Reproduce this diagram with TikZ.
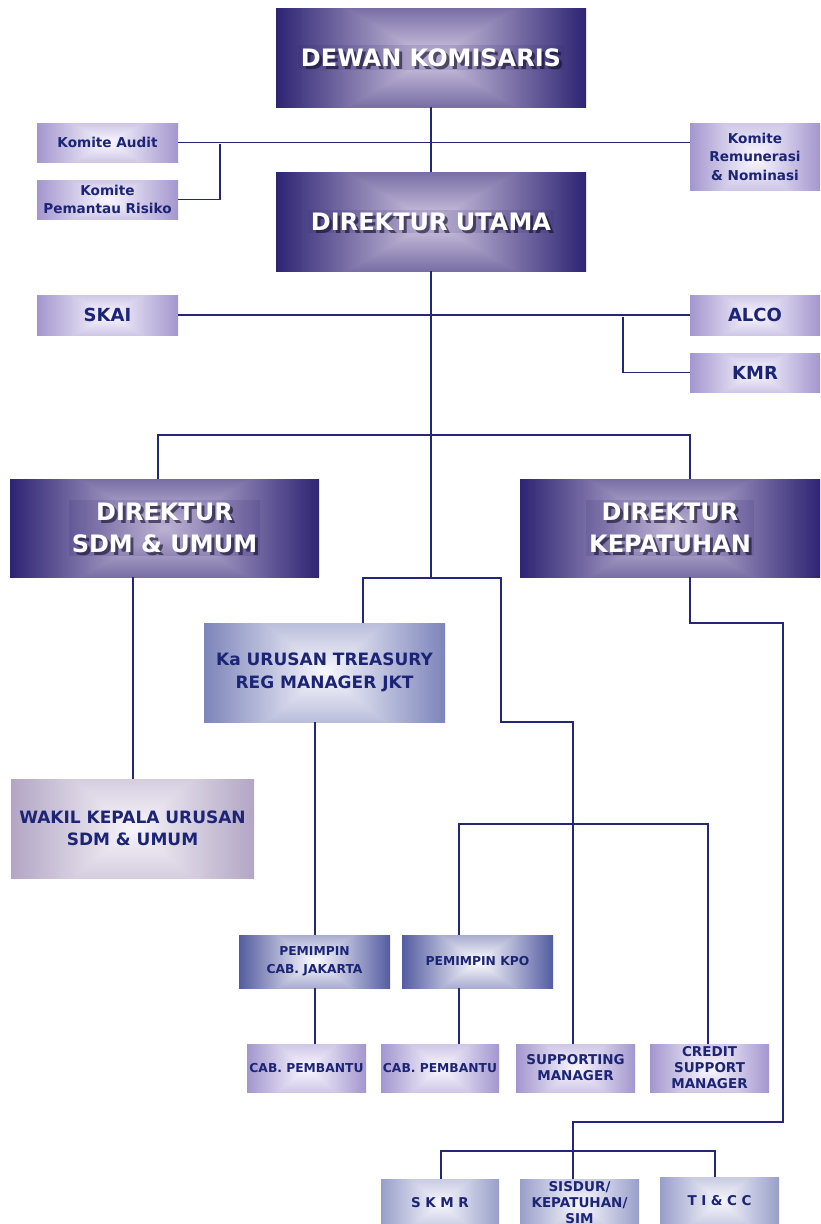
\documentclass[tikz,border=0pt]{standalone}
\usepackage{fontspec}
\setmainfont{DejaVu Sans}
\definecolor{navy}{RGB}{28,36,118}
\definecolor{lnc}{RGB}{36,40,116}
\definecolor{dedge}{RGB}{46,36,114}
% functional rectangular "from centre" shading
\newcommand\mkshade[8]{%
 \pgfdeclarefunctionalshading{#1}{\pgfpoint{0bp}{0bp}}{\pgfpoint{100bp}{100bp}}{}{%
  50 sub abs 25 div #8 mul exch 50 sub abs 25 div
  2 copy lt {exch} if pop
  dup 1 gt {pop 1} if
  dup #5 #2 sub mul #2 add
  exch dup #6 #3 sub mul #3 add
  exch #7 #4 sub mul #4 add
 }}
\mkshade{darksh}{0.83}{0.79}{0.89}{0.18}{0.14}{0.45}{0.55}
\mkshade{lightsh}{0.98}{0.97}{1.0}{0.64}{0.59}{0.81}{0.5}
\mkshade{bluesh}{0.97}{0.97}{0.99}{0.49}{0.52}{0.73}{0.5}
\mkshade{bluelsh}{0.97}{0.97}{0.99}{0.60}{0.62}{0.79}{0.5}
\mkshade{pinksh}{0.97}{0.96}{0.98}{0.70}{0.65}{0.77}{0.5}
\mkshade{medsh}{0.99}{0.99}{1.0}{0.33}{0.36}{0.63}{0.5}
\tikzset{
  box/.style={inner sep=0pt, align=center, text=navy, font=\bfseries},
  dbox/.style={box, shading=darksh},
  lbox/.style={box, shading=lightsh},
  bbox/.style={box, shading=bluesh},
  blbox/.style={box, shading=bluelsh},
  pbox/.style={box, shading=pinksh},
  mbox/.style={box, shading=medsh},
  conn/.style={draw=lnc, line width=1.6pt},
  dtxt/.style={align=center, text=white, font=\fontsize{24}{32}\selectfont\bfseries,
     fill=dedge, fill opacity=0.14, text opacity=1, inner sep=3pt},
  stxt/.style={align=center, text=black!75!dedge, text opacity=0.6, font=\fontsize{24}{32}\selectfont\bfseries, inner sep=3pt},
  fa/.style={font=\fontsize{13.6}{18.5}\selectfont\bfseries},
  fb/.style={font=\fontsize{18}{21}\selectfont\bfseries},
  fc/.style={font=\fontsize{17}{22.5}\selectfont\bfseries},
  fd/.style={font=\fontsize{12.3}{18}\selectfont\bfseries},
  fe/.style={font=\fontsize{13.5}{16}\selectfont\bfseries},
}
\begin{document}
\begin{tikzpicture}[x=1pt,y=-1pt]
\path[use as bounding box, clip] (0,0) rectangle (820,1224);
\fill[white] (0,0) rectangle (820,1224);

% ---------- boxes ----------
\node[dbox, minimum width=310, minimum height=99] (dk) at (431,57.5) {};
\node[dbox, minimum width=310, minimum height=99] (du) at (431,221.5) {};
\node[dbox, minimum width=309, minimum height=98] (dsdm) at (164.5,528) {};
\node[dbox, minimum width=300, minimum height=98] (dkep) at (670,528) {};

\node[stxt] (dks) at ([shift={(3,3)}]dk.center) {DEWAN KOMISARIS};
\node[dtxt] (dkt) at (dk.center) {DEWAN KOMISARIS};
\node[stxt] (dus) at ([shift={(3,3)}]du.center) {DIREKTUR UTAMA};
\node[dtxt] (dut) at (du.center) {DIREKTUR UTAMA};
\node[stxt] (dsdms) at ([shift={(3,3)}]dsdm.center) {DIREKTUR\\SDM \& UMUM};
\node[dtxt] (dsdmt) at (dsdm.center) {DIREKTUR\\SDM \& UMUM};
\node[stxt] (dkeps) at ([shift={(3,3)}]dkep.center) {DIREKTUR\\KEPATUHAN};
\node[dtxt] (dkept) at (dkep.center) {DIREKTUR\\KEPATUHAN};

\node[lbox, fa, minimum width=141, minimum height=39] (ka) at (107.5,142.5) {Komite Audit};
\node[lbox, fa, minimum width=141, minimum height=39] (kp) at (107.5,199.5) {Komite\\Pemantau Risiko};
\node[lbox, fa, minimum width=130, minimum height=67] (rem) at (755,156.5) {Komite\\Remunerasi\\\& Nominasi};
\node[lbox, fb, minimum width=141, minimum height=40] (skai) at (107.5,315) {SKAI};
\node[lbox, fb, minimum width=130, minimum height=40] (alco) at (755,315) {ALCO};
\node[lbox, fb, minimum width=130, minimum height=39] (kmr) at (755,372.5) {KMR};

\node[bbox, fc, minimum width=241, minimum height=99] (kau) at (324.5,672.5) {Ka URUSAN TREASURY\\REG MANAGER JKT};
\node[pbox, fc, minimum width=243, minimum height=99] (wakil) at (132.5,828.5) {WAKIL KEPALA URUSAN\\SDM \& UMUM};

\node[mbox, fd, minimum width=151, minimum height=53] (pcj) at (314.5,961.5) {PEMIMPIN\\CAB. JAKARTA};
\node[mbox, fd, minimum width=151, minimum height=53] (kpo) at (477.5,961.5) {PEMIMPIN KPO};

\node[lbox, fd, minimum width=119, minimum height=48] (cab1) at (306.5,1068) {CAB. PEMBANTU};
\node[lbox, fd, minimum width=118, minimum height=48] (cab2) at (440,1068) {CAB. PEMBANTU};
\node[lbox, fe, minimum width=119, minimum height=48] (sup) at (575.5,1068) {SUPPORTING\\MANAGER};
\node[lbox, fe, minimum width=119, minimum height=48] (csm) at (709.5,1068) {CREDIT\\SUPPORT\\MANAGER};

\node[blbox, fe, minimum width=118, minimum height=48] (skmr) at (440,1203) {S\,\,K\,\,M\,\,R};
\node[blbox, fe, minimum width=119, minimum height=48] (sis) at (579.5,1203) {SISDUR/\\KEPATUHAN/\\SIM};
\node[blbox, fe, minimum width=119, minimum height=48] (tic) at (719.5,1201) {T\,\,I\,\,\&\,\,C\,\,C};

% ---------- junction coordinates ----------
\coordinate (kj) at (220,144);
\coordinate (sj) at (623,317);
\coordinate (j1) at (158,435);
\coordinate (j2) at (690,435);
\coordinate (j3) at (431,578);
\coordinate (j4) at (363,578);
\coordinate (j5) at (501,578);
\coordinate (j6) at (573,722);
\coordinate (b1) at (459,824);
\coordinate (b2) at (708,824);
\coordinate (k1) at (783,623);
\coordinate (k2) at (573,1122);
\coordinate (t1) at (441,1151);
\coordinate (t2) at (715,1151);
\coordinate (w1) at (133,600);
\coordinate (p1) at (315,700);

% ---------- connectors ----------
\draw[conn] (dk.south) -- (du.north);
\draw[conn] (ka.east) -- (ka.east -| rem.west);
\draw[conn] (kj) |- (kp.east);
\draw[conn] (du.south) -- (j3);
\draw[conn] (skai.east) -- (skai.east -| alco.west);
\draw[conn] (sj) |- (kmr.west);
\draw[conn] (dsdm.north -| j1) |- (j2) -- (dkep.north -| j2);
\draw[conn] (kau.north -| j4) |- (j5) |- (j6) -- (sup.north -| j6);
\draw[conn] (dsdm.south -| w1) -- (wakil.north -| w1);
\draw[conn] (kau.south -| p1) -- (pcj.north -| p1);
\draw[conn] (pcj.south -| p1) -- (cab1.north -| p1);
\draw[conn] (kpo.north -| b1) |- (b2) -- (csm.north -| b2);
\draw[conn] (kpo.south -| b1) -- (cab2.north -| b1);
\draw[conn] (dkep.south -| j2) |- (k1) |- (k2) -- (sis.north -| k2);
\draw[conn] (skmr.north -| t1) |- (t2) -- (tic.north -| t2);
\end{tikzpicture}
\end{document}
